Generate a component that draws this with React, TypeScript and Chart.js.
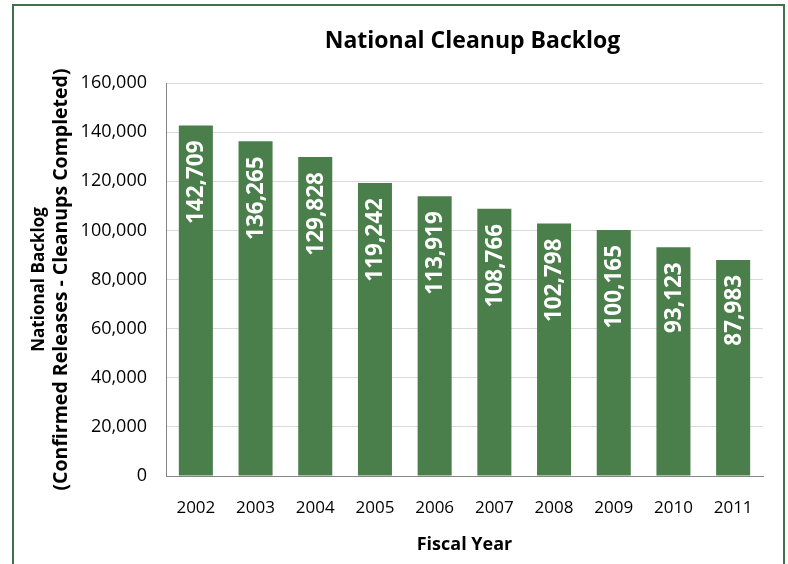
import React, { useEffect, useRef } from "react";
import { Chart, registerables } from "chart.js";

Chart.register(...registerables);

const years = ["2002", "2003", "2004", "2005", "2006", "2007", "2008", "2009", "2010", "2011"];
const backlog = [142709, 136265, 129828, 119242, 113919, 108766, 102798, 100165, 93123, 87983];
const yMin = 0;
const yMax = 160000;
const yStep = 20000;

const chartTitle = "National Cleanup Backlog";
const xTitle = "Fiscal Year";
const yTitle = ["National Backlog", "(Confirmed Releases - Cleanups Completed)"];

const FONT = "'Open Sans', sans-serif";
const BAR_COLOR = "#4A7E4A";
const FRAME_COLOR = "#41704F";

const fmt = (v: number) => v.toLocaleString("en-US");

const framePlugin = {
  id: "frame",
  beforeDraw(chart: any) {
    const { ctx, width, height } = chart;
    ctx.save();
    ctx.fillStyle = "#ffffff";
    ctx.fillRect(0, 0, width, height);
    ctx.strokeStyle = FRAME_COLOR;
    ctx.lineWidth = 2;
    ctx.strokeRect(13, 5, width - 13 - 4, height + 20);
    ctx.restore();
  },
};

const titlesPlugin = {
  id: "titles",
  afterDraw(chart: any) {
    const { ctx, chartArea } = chart;
    ctx.save();
    ctx.fillStyle = "#000000";
    // main title
    ctx.font = `bold 23px ${FONT}`;
    ctx.textAlign = "center";
    ctx.textBaseline = "alphabetic";
    ctx.fillText(chartTitle, (chartArea.left + chartArea.right) / 2 + 8, 48);
    // y-axis title (two lines, rotated)
    const cy = (chartArea.top + chartArea.bottom) / 2;
    const lines = [
      { text: yTitle[0], size: 17, x: 39 },
      { text: yTitle[1], size: 19.5, x: 61 },
    ];
    lines.forEach((l) => {
      ctx.save();
      ctx.translate(l.x, cy);
      ctx.rotate(-Math.PI / 2);
      ctx.font = `bold ${l.size}px ${FONT}`;
      ctx.textAlign = "center";
      ctx.textBaseline = "middle";
      ctx.fillText(l.text, 0, 0);
      ctx.restore();
    });
    ctx.restore();
  },
};

const barLabelPlugin = {
  id: "barLabels",
  afterDatasetsDraw(chart: any) {
    const { ctx } = chart;
    const meta = chart.getDatasetMeta(0);
    ctx.save();
    ctx.fillStyle = "#ffffff";
    ctx.font = `bold 22.5px ${FONT}`;
    ctx.textAlign = "right";
    ctx.textBaseline = "middle";
    meta.data.forEach((bar: any, i: number) => {
      const { x, y } = bar.getProps(["x", "y"], true);
      ctx.save();
      ctx.translate(x + 1, y + 15);
      ctx.rotate(-Math.PI / 2);
      ctx.fillText(fmt(backlog[i]), 0, 0);
      ctx.restore();
    });
    ctx.restore();
  },
};

export default function App() {
  const canvasRef = useRef<HTMLCanvasElement | null>(null);

  useEffect(() => {
    if (!canvasRef.current) return;
    const chart = new Chart(canvasRef.current, {
      type: "bar",
      data: {
        labels: years,
        datasets: [
          {
            data: backlog,
            backgroundColor: BAR_COLOR,
            borderWidth: 0,
            categoryPercentage: 1,
            barPercentage: 0.57,
          },
        ],
      },
      options: {
        responsive: false,
        animation: false,
        devicePixelRatio: 1,
        layout: { padding: { left: 28, right: 25, top: 83, bottom: 0 } },
        plugins: {
          legend: { display: false },
          tooltip: { enabled: false },
          title: { display: false },
        },
        scales: {
          x: {
            grid: { display: false, drawTicks: false },
            border: { display: true, color: "#868686", width: 1 },
            ticks: {
              color: "#000000",
              font: { family: FONT, size: 17 },
              padding: 22,
              maxRotation: 0,
            },
            title: {
              display: true,
              text: xTitle,
              color: "#000000",
              font: { family: FONT, size: 18, weight: "bold", lineHeight: 1.2 },
              padding: { top: 0, bottom: 8 },
            },
            afterFit(scale: any) {
              scale.height = 88;
            },
          },
          y: {
            min: yMin,
            max: yMax,
            ticks: {
              stepSize: yStep,
              color: "#000000",
              font: { family: FONT, size: 18 },
              padding: 19,
              callback: (v: any) => fmt(Number(v)),
            },
            grid: { color: "#D9D9D9", lineWidth: 1, drawTicks: false },
            border: { display: true, color: "#868686", width: 1 },
            title: { display: false },
            afterFit(scale: any) {
              scale.width = 138;
            },
          },
        },
      },
      plugins: [framePlugin, barLabelPlugin, titlesPlugin],
    } as any);
    return () => chart.destroy();
  }, []);

  return (
    <div style={{ position: "absolute", left: 0, top: 0, width: 788, height: 564 }}>
      <canvas ref={canvasRef} width={788} height={564} style={{ width: 788, height: 564, display: "block" }} />
    </div>
  );
}
